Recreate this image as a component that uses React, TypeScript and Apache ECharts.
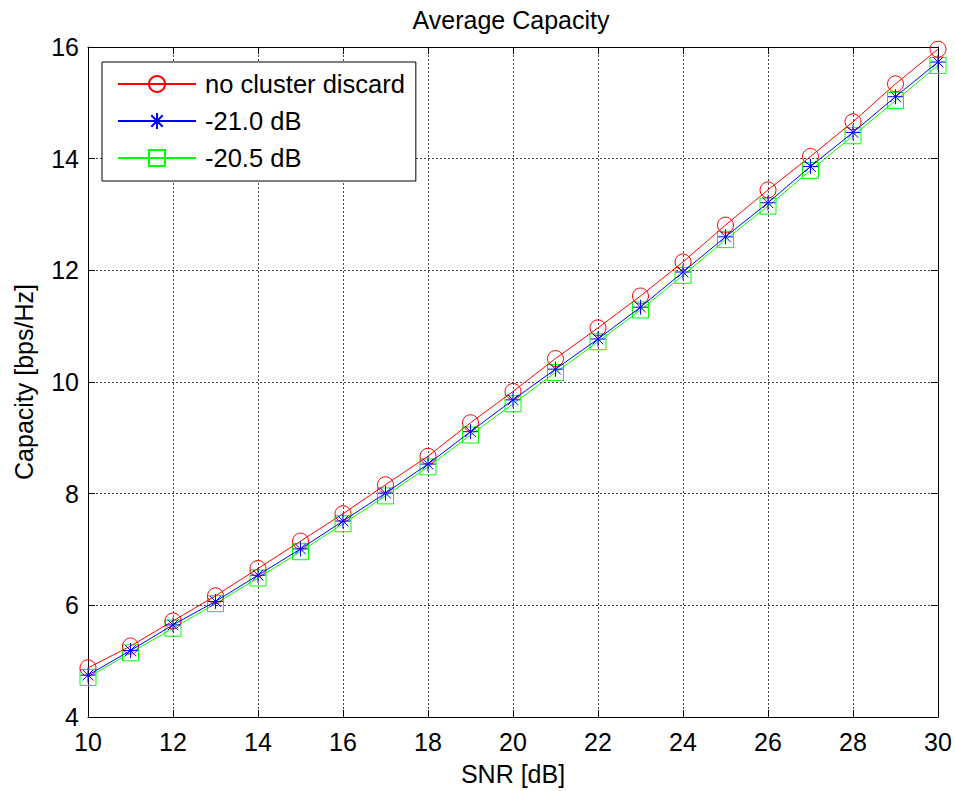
import React, { useEffect, useRef } from "react";
import * as echarts from "echarts";

const snr = [10, 11, 12, 13, 14, 15, 16, 17, 18, 19, 20, 21, 22, 23, 24, 25, 26, 27, 28, 29, 30];
const noDiscard = [4.88, 5.27, 5.72, 6.17, 6.66, 7.15, 7.64, 8.16, 8.67, 9.27, 9.83, 10.42, 10.97, 11.54, 12.15, 12.81, 13.44, 14.04, 14.66, 15.34, 15.96];
const th210 = [4.75, 5.19, 5.65, 6.07, 6.54, 7.01, 7.51, 8.01, 8.53, 9.11, 9.68, 10.23, 10.77, 11.34, 11.97, 12.6, 13.21, 13.86, 14.47, 15.11, 15.73];
const th205 = [4.71, 5.15, 5.59, 6.03, 6.49, 6.96, 7.46, 7.96, 8.48, 9.05, 9.61, 10.17, 10.72, 11.29, 11.91, 12.55, 13.15, 13.79, 14.41, 15.04, 15.67];
const seriesNames = ["no cluster discard", "-21.0 dB", "-20.5 dB"];

const FONT = "'Liberation Sans', Arial, Helvetica, sans-serif";
const FS = 25;
const ASTERISK = "path://M8 0L8 16M0 8L16 8M2.3 2.3L13.7 13.7M2.3 13.7L13.7 2.3";

export default function App() {
  const ref = useRef<HTMLDivElement>(null);
  useEffect(() => {
    document.body.style.margin = "0";
    if (!ref.current) return;
    const chart = echarts.init(ref.current, undefined, { renderer: "svg" });
    const pair = (ys: number[]) => snr.map((x, i) => [x, ys[i]]);
    const axisCommon = {
      type: "value" as const,
      interval: 2,
      axisLine: { show: true, onZero: false, lineStyle: { color: "#000", width: 1 } },
      axisTick: { show: true, inside: true, length: 7, lineStyle: { color: "#000" } },
    };
    chart.setOption({
      animation: false,
      backgroundColor: "#fff",
      textStyle: { fontFamily: FONT },
      grid: { left: 88, right: 17, top: 47, bottom: 74, containLabel: false },
      graphic: [
        {
          type: "text",
          x: 511,
          y: 20,
          style: {
            text: "Average Capacity",
            fill: "#000",
            font: `${FS}px ${FONT}`,
            align: "center",
            verticalAlign: "middle",
          },
        },
      ],
      legend: {
        orient: "vertical",
        left: 102,
        top: 62,
        data: seriesNames,
        itemWidth: 78,
        itemHeight: 20,
        itemGap: 11,
        padding: [9, 11, 10, 15],
        borderColor: "#000",
        borderWidth: 1,
        backgroundColor: "#fff",
        textStyle: { fontSize: 25.5, color: "#000", fontFamily: FONT, padding: [0, 0, 0, 4] },
      },
      xAxis: [
        {
          ...axisCommon,
          min: 10,
          max: 30,
          position: "bottom",
          name: "SNR [dB]",
          nameLocation: "middle",
          nameGap: 44,
          nameTextStyle: { fontSize: FS, color: "#000", fontFamily: FONT },
          axisLabel: { fontSize: FS, color: "#000", margin: 12, fontFamily: FONT },
          splitLine: { show: true, lineStyle: { color: "#444", type: [2, 2], width: 1 } },
        },
        {
          ...axisCommon,
          min: 10,
          max: 30,
          position: "top",
          axisLabel: { show: false },
          splitLine: { show: false },
        },
      ],
      yAxis: [
        {
          ...axisCommon,
          min: 4,
          max: 16,
          position: "left",
          name: "Capacity [bps/Hz]",
          nameLocation: "middle",
          nameGap: 52,
          nameTextStyle: { fontSize: FS, color: "#000", fontFamily: FONT },
          axisLabel: { fontSize: FS, color: "#000", margin: 9, fontFamily: FONT },
          splitLine: { show: true, lineStyle: { color: "#444", type: [2, 2], width: 1 } },
        },
        {
          ...axisCommon,
          min: 4,
          max: 16,
          position: "right",
          axisLabel: { show: false },
          splitLine: { show: false },
        },
      ],
      series: [
        {
          name: seriesNames[0],
          type: "line",
          data: pair(noDiscard),
          symbol: "circle",
          symbolSize: 16,
          lineStyle: { color: "#ff0000", width: 1 },
          itemStyle: { color: "transparent", borderColor: "#ff0000", borderWidth: 1 },
          z: 3,
        },
        {
          name: seriesNames[1],
          type: "line",
          data: pair(th210),
          symbol: ASTERISK,
          symbolSize: 15,
          lineStyle: { color: "#0000ff", width: 1 },
          itemStyle: { color: "#0000ff", borderColor: "#0000ff", borderWidth: 1 },
          z: 4,
        },
        {
          name: seriesNames[2],
          type: "line",
          data: pair(th205),
          symbol: "rect",
          symbolSize: 16,
          lineStyle: { color: "#00ff00", width: 1 },
          itemStyle: { color: "transparent", borderColor: "#00ff00", borderWidth: 1 },
          z: 2,
        },
      ],
    });
    return () => chart.dispose();
  }, []);
  return <div ref={ref} style={{ width: 955, height: 791 }} />;
}
